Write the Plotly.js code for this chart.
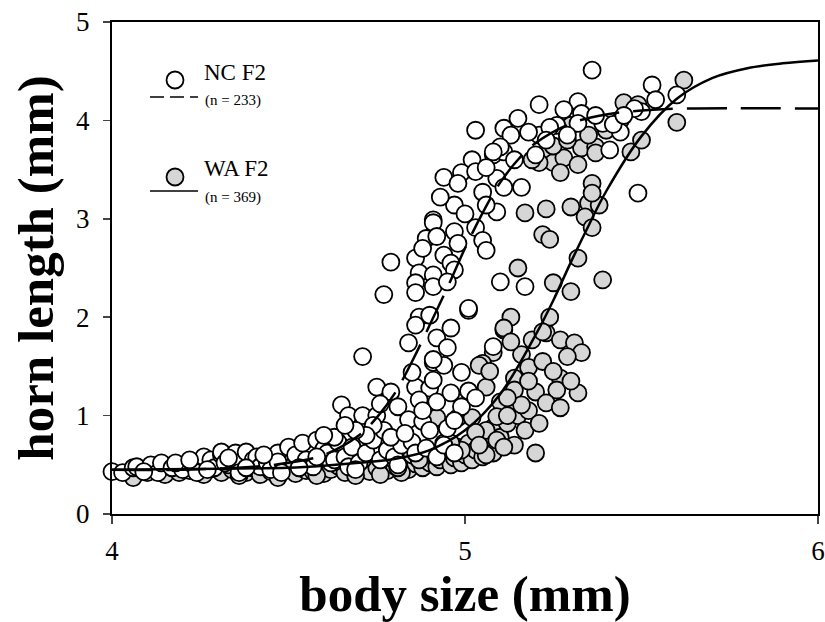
<!DOCTYPE html>
<html>
<head>
<meta charset="utf-8">
<script src="https://cdn.plot.ly/plotly-3.0.1.min.js"></script>
<style>html,body{margin:0;padding:0;background:#fff;}#chart{width:825px;height:622px;}</style>
</head>
<body>
<div id="chart"></div>
<script>
// ---- NC F2 (open circles) ----
const ncX = [4.00,4.03,4.06,4.07,4.11,4.13,4.14,4.17,4.20,4.23,4.24,4.26,4.28,4.29,4.31,4.31,4.32,4.35,4.36,4.36,4.38,4.40,4.41,4.42,4.44,4.45,4.47,4.47,4.50,4.52,4.54,4.55,4.57,4.58,4.60,4.61,4.62,4.63,4.64,4.66,4.67,4.68,4.70,4.72,4.74,4.76,4.78,4.80,4.82,4.85,4.86,4.89,4.92,4.94,4.97,4.38,4.48,4.53,4.27,4.33,4.43,4.18,4.09,4.22,4.58,4.69,
 4.65,4.67,4.71,4.75,4.71,4.75,4.79,4.86,4.90,4.96,4.81,4.87,4.92,4.99,4.84,4.88,4.95,4.77,4.79,4.83,4.74,4.72,4.69,4.63,4.60,4.66,4.85,4.91,4.94,4.99,4.91,4.81,4.90,4.97,4.88,4.76,5.01,5.03,
 5.02,5.08,5.11,4.94,4.99,4.98,5.09,5.11,5.05,5.16,4.97,5.09,5.06,4.91,4.91,5.03,4.97,4.89,4.92,5.05,4.98,5.06,4.79,4.86,4.94,4.96,4.87,4.91,4.97,4.86,4.86,4.91,4.95,4.77,5.01,4.87,4.90,4.86,4.92,4.84,4.96,4.95,4.91,5.10,5.17,5.08,5.01,5.03,5.11,5.13,5.15,5.10,5.08,5.21,5.32,5.28,5.33,5.32,5.26,5.21,5.24,5.39,5.20,5.41,5.36,5.53,5.54,5.50,5.48,5.60,5.44,5.42,5.23,5.49,5.03,5.06,4.93,5.00,4.88,5.14,5.18,5.29,5.37,5.45];
const ncY = [0.43,0.42,0.47,0.48,0.50,0.42,0.52,0.47,0.45,0.50,0.42,0.58,0.55,0.47,0.60,0.63,0.52,0.62,0.52,0.42,0.63,0.55,0.58,0.48,0.52,0.45,0.62,0.53,0.68,0.60,0.72,0.55,0.48,0.75,0.66,0.62,0.52,0.55,0.73,0.58,0.48,0.68,0.52,0.62,0.75,0.55,0.65,0.58,0.70,0.73,0.62,0.67,0.58,0.70,0.62,0.47,0.42,0.47,0.45,0.57,0.60,0.52,0.43,0.55,0.58,0.45,
 1.11,1.00,1.00,1.00,1.60,1.29,1.24,1.29,1.28,1.23,1.09,1.16,1.14,1.09,0.96,0.94,0.87,0.85,0.78,0.82,0.90,0.80,0.85,0.78,0.80,0.90,1.44,1.54,1.51,1.44,1.36,0.50,0.85,0.95,1.05,1.12,1.25,1.18,
 3.60,3.65,3.68,3.42,3.47,3.36,3.41,3.32,3.27,3.32,3.14,3.07,3.14,2.99,2.96,2.91,2.87,2.80,2.82,2.78,2.75,2.68,2.56,2.60,2.63,2.55,2.45,2.43,2.48,2.35,2.25,2.31,2.36,2.23,2.07,2.00,2.02,1.92,1.79,1.74,1.89,1.69,1.57,2.36,2.31,1.70,2.09,3.90,3.92,3.85,4.02,3.73,3.68,4.16,4.19,4.11,4.07,3.97,3.95,3.85,3.93,3.97,3.65,3.70,4.51,4.36,4.21,4.09,4.12,4.26,3.88,3.96,3.80,3.26,3.48,3.52,3.22,3.05,2.70,3.60,3.88,3.85,4.05,4.05];

// ---- WA F2 (shaded circles) ----
const waX = [4.06,4.10,4.15,4.19,4.22,4.26,4.28,4.31,4.34,4.38,4.40,4.42,4.45,4.47,4.49,4.51,4.52,4.55,4.57,4.59,4.60,4.62,4.64,4.66,4.68,4.70,4.72,4.73,4.75,4.77,4.78,4.80,4.81,4.83,4.84,4.86,4.87,4.88,4.90,4.91,4.92,4.93,4.95,4.96,4.97,4.98,4.99,5.00,5.01,5.02,5.03,5.04,5.05,5.06,5.08,5.08,5.10,5.12,5.14,5.15,5.17,5.18,4.33,4.44,4.54,4.63,4.71,4.79,4.85,4.89,4.94,4.24,4.13,4.36,4.58,4.69,4.76,4.82,
 5.11,5.19,5.23,5.27,5.31,5.33,5.29,5.08,5.05,5.16,5.18,5.14,5.27,5.06,5.20,5.26,5.32,5.14,5.10,5.16,5.23,5.27,5.09,5.12,5.06,5.21,5.09,5.11,5.06,5.20,5.04,4.92,4.98,5.02,5.03,4.99,5.04,4.96,4.87,4.81,5.13,5.11,5.24,5.22,5.15,5.25,5.30,5.39,5.32,5.17,5.23,5.30,5.35,5.38,5.34,5.36,5.22,5.24,5.36,5.36,5.23,5.25,5.21,5.28,5.32,5.27,5.33,5.37,5.37,5.47,5.50,5.45,5.49,5.62,5.60,5.25,5.19,5.29,5.35,5.40,5.44,5.30,5.13,5.07,5.22,5.25,5.30,5.18,5.12];
const waY = [0.37,0.42,0.40,0.42,0.44,0.40,0.46,0.42,0.45,0.42,0.47,0.40,0.43,0.37,0.46,0.48,0.41,0.44,0.43,0.47,0.41,0.45,0.49,0.42,0.47,0.44,0.50,0.43,0.47,0.52,0.44,0.49,0.47,0.54,0.45,0.51,0.55,0.47,0.52,0.60,0.48,0.55,0.62,0.50,0.57,0.68,0.52,0.60,0.72,0.55,0.65,0.80,0.58,0.70,0.88,0.62,0.78,0.92,0.70,1.00,0.85,1.05,0.50,0.50,0.50,0.53,0.55,0.57,0.60,0.65,0.72,0.47,0.45,0.39,0.39,0.39,0.40,0.42,
 1.87,1.77,1.84,1.77,1.74,1.64,1.60,1.64,1.53,1.62,1.49,1.38,1.38,1.29,1.24,1.26,1.23,1.26,1.14,1.11,1.13,1.08,0.99,1.00,0.85,0.92,0.75,0.68,0.60,0.62,1.51,0.98,0.98,0.98,0.83,0.65,0.70,0.72,0.55,0.47,2.00,1.89,2.00,1.85,2.50,2.35,2.26,2.38,2.60,3.06,3.10,3.12,3.16,3.14,3.02,2.91,2.84,2.79,3.36,3.26,3.67,3.57,3.57,3.62,3.55,3.47,3.72,3.73,3.67,3.68,3.80,4.18,4.16,4.41,3.98,3.74,3.60,3.80,3.85,3.90,4.00,3.95,1.75,1.45,1.55,1.45,1.35,1.35,1.18];

// ---- fitted curves ----
const ncFitX = [4.0,4.2,4.4,4.5,4.6,4.7,4.75,4.8,4.85,4.9,4.95,5.0,5.05,5.1,5.15,5.2,5.3,5.4,5.5,5.6,6.0];
const ncFitY = [0.45,0.45,0.48,0.52,0.60,0.80,0.98,1.22,1.55,1.92,2.30,2.70,3.06,3.37,3.60,3.77,3.97,4.06,4.10,4.12,4.12];
const waFitX = [4.0,4.3,4.5,4.6,4.7,4.8,4.9,5.0,5.1,5.2,5.25,5.3,5.35,5.4,5.5,5.6,5.7,5.8,5.9,6.0];
const waFitY = [0.45,0.46,0.47,0.49,0.52,0.56,0.65,0.85,1.22,1.82,2.17,2.56,2.93,3.28,3.84,4.22,4.43,4.53,4.58,4.61];

const xTicks = [4,5,6];
const yTicks = [0,1,2,3,4,5];

const serif = 'Liberation Serif, Times New Roman, serif';
const mk = (fill) => ({symbol:'circle', size:17, color:fill, line:{color:'#000', width:1.8}});

const traces = [
  {x:waX, y:waY, type:'scatter', mode:'markers', marker:mk('#d6d6d6'), cliponaxis:false, showlegend:false},
  {x:ncX, y:ncY, type:'scatter', mode:'markers', marker:mk('#ffffff'), cliponaxis:false, showlegend:false},
  {x:waFitX, y:waFitY, type:'scatter', mode:'lines', line:{color:'#000', width:2.5, shape:'spline'}, showlegend:false},
  {x:ncFitX, y:ncFitY, type:'scatter', mode:'lines', line:{color:'#000', width:2.5, shape:'spline', dash:'40px,14px'}, showlegend:false}
];

const L = 112, T = 22, W = 706, H = 492;
const px = v => (v - L) / W;
const py = v => (T + H - v) / H;

const layout = {
  width:825, height:622,
  margin:{l:L, r:825-L-W, t:T, b:622-T-H},
  paper_bgcolor:'#fff', plot_bgcolor:'#fff',
  font:{family:serif, color:'#000'},
  showlegend:false,
  xaxis:{range:[4,6], tickvals:xTicks, ticktext:xTicks.map(String), ticks:'outside', ticklen:8, tickwidth:1.5,
    showline:true, linewidth:2, linecolor:'#000', mirror:true, showgrid:false, zeroline:false,
    tickfont:{family:serif, size:27}, ticklabelstandoff:4,
    title:{text:'<b>body size (mm)</b>', font:{family:serif, size:51}, standoff:6}},
  yaxis:{range:[0,5], tickvals:yTicks, ticktext:yTicks.map(String), ticks:'outside', ticklen:7, tickwidth:1.5,
    showline:true, linewidth:2, linecolor:'#000', mirror:true, showgrid:false, zeroline:false,
    tickfont:{family:serif, size:27}, ticklabelstandoff:8,
    title:{text:'<b>horn length (mm)</b>', font:{family:serif, size:51}, standoff:6}},
  shapes:[
    {type:'circle', xref:'paper', yref:'paper', xsizemode:'pixel', ysizemode:'pixel', xanchor:px(175), yanchor:py(80), x0:-8.5, x1:8.5, y0:-8.5, y1:8.5, fillcolor:'#fff', line:{color:'#000', width:1.8}},
    {type:'line', xref:'paper', yref:'paper', x0:px(150), x1:px(198), y0:py(97), y1:py(97), line:{color:'#000', width:1.5, dash:'14px,6px'}},
    {type:'circle', xref:'paper', yref:'paper', xsizemode:'pixel', ysizemode:'pixel', xanchor:px(175), yanchor:py(177), x0:-8.5, x1:8.5, y0:-8.5, y1:8.5, fillcolor:'#d6d6d6', line:{color:'#000', width:1.8}},
    {type:'line', xref:'paper', yref:'paper', x0:px(150), x1:px(198), y0:py(191), y1:py(191), line:{color:'#000', width:1.5}}
  ],
  annotations:[
    {text:'NC F2', xref:'paper', yref:'paper', x:px(202), y:py(72), xanchor:'left', yanchor:'middle', showarrow:false, font:{family:serif, size:23}},
    {text:'(n = 233)', xref:'paper', yref:'paper', x:px(203), y:py(101), xanchor:'left', yanchor:'middle', showarrow:false, font:{family:serif, size:15}},
    {text:'WA F2', xref:'paper', yref:'paper', x:px(202), y:py(168), xanchor:'left', yanchor:'middle', showarrow:false, font:{family:serif, size:23}},
    {text:'(n = 369)', xref:'paper', yref:'paper', x:px(203), y:py(197), xanchor:'left', yanchor:'middle', showarrow:false, font:{family:serif, size:15}}
  ]
};

Plotly.newPlot('chart', traces, layout, {displayModeBar:false, staticPlot:true});
</script>
</body>
</html>
